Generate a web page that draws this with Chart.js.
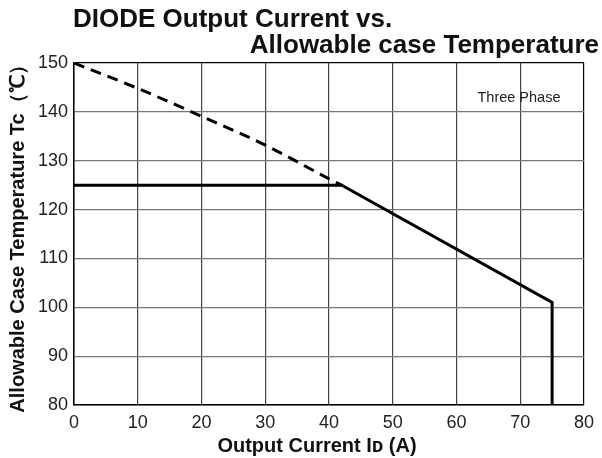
<!DOCTYPE html>
<html>
<head>
<meta charset="utf-8">
<script src="https://cdn.jsdelivr.net/npm/chart.js@4/dist/chart.umd.min.js"></script>
<style>
  html, body { margin: 0; padding: 0; background: #fff; }
  #wrap { width: 602px; height: 458px; }
</style>
</head>
<body>
<div id="wrap"><canvas id="chart" width="602" height="458"></canvas></div>
<script>
// values
const dashedCurrent = [0, 10, 20, 30, 40, 42];
const dashedTemp = [150, 144.8, 139.1, 133.2, 126.3, 125];
const solidCurrent = [0, 42, 75, 75];
const solidTemp = [125, 125, 101, 80];

const xTicks = [0, 10, 20, 30, 40, 50, 60, 70, 80];
const yTicks = [80, 90, 100, 110, 120, 130, 140, 150];

const titleLines = ["DIODE Output Current vs.", "Allowable case Temperature"];
const xTitle = "Output Current Iᴅ (A)";
const yTitle = "Allowable Case Temperature Tc（℃）";
const noteText = "Three Phase";
const notePos = { x: 69.8, y: 142.8 };

const FONT = "'Liberation Sans', Arial, sans-serif";

function toPoints(xs, ys) {
  return xs.map((x, i) => ({ x, y: ys[i] }));
}

const textPlugin = {
  id: "textPlugin",
  afterDraw(chart) {
    const ctx = chart.ctx;
    const { x, y } = chart.scales;
    ctx.save();
    ctx.fillStyle = "#111";
    ctx.font = "bold 26px " + FONT;
    ctx.textBaseline = "alphabetic";
    ctx.textAlign = "left";
    ctx.fillText(titleLines[0], 73, 27);
    ctx.textAlign = "right";
    ctx.fillText(titleLines[1], 599, 53);

    // x axis title sits a bit left of the plot centre in the reference
    ctx.font = "bold 20px " + FONT;
    ctx.textAlign = "center";
    ctx.fillText(xTitle, 317, 452);

    ctx.font = "14.5px " + FONT;
    ctx.textBaseline = "middle";
    ctx.fillStyle = "#222";
    ctx.fillText(noteText, x.getPixelForValue(notePos.x), y.getPixelForValue(notePos.y));
    ctx.restore();
  }
};

new Chart(document.getElementById("chart"), {
  type: "line",
  data: {
    datasets: [
      {
        data: toPoints(solidCurrent, solidTemp),
        borderColor: "#000",
        borderWidth: 3,
        pointRadius: 0,
        tension: 0,
        order: 1
      },
      {
        data: toPoints(dashedCurrent, dashedTemp),
        borderColor: "#000",
        borderWidth: 3,
        borderDash: [11, 7],
        pointRadius: 0,
        cubicInterpolationMode: "monotone",
        order: 2
      }
    ]
  },
  options: {
    responsive: false,
    animation: false,
    layout: { padding: { left: 0, right: 18, top: 63, bottom: 0 } },
    plugins: {
      legend: { display: false },
      tooltip: { enabled: false }
    },
    scales: {
      x: {
        type: "linear",
        min: 0,
        max: 80,
        afterBuildTicks: (s) => { s.ticks = xTicks.map((v) => ({ value: v })); },
        afterFit: (s) => { s.height = 53; },
        grid: {
          color: (c) => (c.tick && c.tick.value === 80 ? "#000" : "#444"),
          lineWidth: 1.2,
          drawTicks: false
        },
        border: { color: "#000", width: 1.5 },
        ticks: {
          color: "#222",
          font: { family: FONT, size: 18 },
          padding: 7,
          maxRotation: 0
        },
        title: { display: false }
      },
      y: {
        type: "linear",
        min: 80,
        max: 150,
        afterBuildTicks: (s) => { s.ticks = yTicks.map((v) => ({ value: v })); },
        afterFit: (s) => { s.width = 74; },
        grid: {
          color: (c) => (c.tick && c.tick.value === 150 ? "#000" : "#777"),
          lineWidth: 1.2,
          drawTicks: false
        },
        border: { color: "#000", width: 1.5 },
        ticks: {
          color: "#222",
          font: { family: FONT, size: 18 },
          padding: 6
        },
        title: {
          display: true,
          text: yTitle,
          color: "#111",
          font: { family: FONT, size: 20, weight: "bold" },
          padding: { top: 6, bottom: 0 }
        }
      }
    }
  },
  plugins: [textPlugin]
});
</script>
</body>
</html>
